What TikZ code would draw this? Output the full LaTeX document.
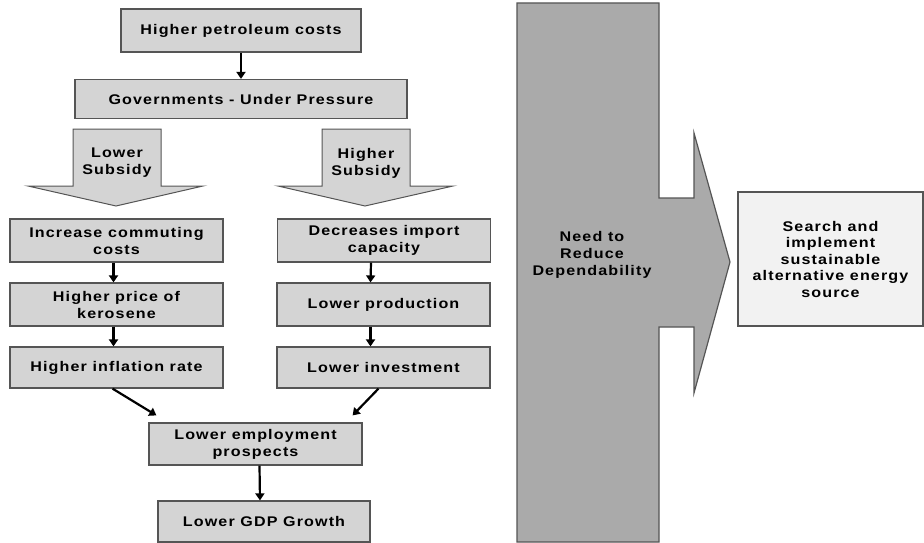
\documentclass[tikz,border=0pt]{standalone}
\usepackage{fontspec}
\setmainfont{Liberation Sans}[FakeStretch=1.15,LetterSpace=8]
\usetikzlibrary{arrows.meta,calc}
\definecolor{boxfill}{HTML}{D4D4D4}
\definecolor{bigfill}{HTML}{AAAAAA}
\definecolor{srchfill}{HTML}{F2F2F2}
\definecolor{edge}{HTML}{555555}
\begin{document}
\begin{tikzpicture}[x=1pt,y=-1pt,
  every node/.style={font=\bfseries\fontsize{14}{17}\selectfont,align=center,inner sep=0pt},
  fbox/.style={draw=edge,line width=1.2pt,fill=boxfill,minimum width=213pt,minimum height=43pt},
  flow/.style={draw=black,line width=2.2pt,-{Triangle[width=9pt,length=7pt]}},
  blockarrow/.style={draw=edge,line width=1pt,fill=boxfill}]
\useasboundingbox (0,0) rectangle (924,543);
% nodes
\node[fbox,minimum width=240pt,minimum height=43pt] (pet) at (241,30.5) {Higher petroleum costs};
\node[fbox,minimum width=332pt,minimum height=39pt] (gov) at (241,99) {Governments - Under Pressure};
% block arrows
\draw[blockarrow] (73,129) -- (161,129) -- (161,186) -- (203,186) -- (116,206) -- (28,186) -- (73,186) -- cycle;
\node (low) at (117,163) {Lower\\Subsidy};
\draw[blockarrow] (322,129) -- (410,129) -- (410,186) -- (453,186) -- (365,206) -- (278,186) -- (322,186) -- cycle;
\node (high) at (366,163) {Higher\\Subsidy};
\node[fbox] (inc) at (116.5,240.5) {Increase commuting\\costs};
\node[fbox] (dec) at (384,240.5) {Decreases import\\capacity};
\node[fbox] (ker) at (116.5,304.5) {Higher price of\\kerosene};
\node[fbox] (prod) at (383.5,304.5) {Lower production};
\node[fbox,minimum height=41pt] (infl) at (116.5,367.5) {Higher inflation rate};
\node[fbox,minimum height=41pt] (inv) at (383.5,367.5) {Lower investment};
\node[fbox,minimum height=42pt] (emp) at (255.5,444) {Lower employment\\prospects};
\node[fbox,minimum width=212pt,minimum height=41pt] (gdp) at (264,521.5) {Lower GDP Growth};
% big arrow
\draw[draw=edge,line width=1.2pt,fill=bigfill] (517,3) -- (659,3) -- (659,198) -- (694,198) -- (694,133) -- (730,262) -- (694,393) -- (694,327) -- (659,327) -- (659,542) -- (517,542) -- cycle;
\node (need) at (592,255) {Need to\\Reduce\\Dependability};
\node[draw=edge,line width=1.2pt,fill=srchfill,minimum width=185pt,minimum height=134pt,font=\bfseries\fontsize{14}{16.5}\selectfont] (srch) at (830.5,259) {Search and\\implement\\sustainable\\alternative energy\\source};
% connectors
\draw[flow] (pet.south) -- (gov.north);
\draw[flow] ($(inc.south)+(-3,0)$) -- ($(ker.north)+(-3,0)$);
\draw[flow] ($(ker.south)+(-3,0)$) -- ($(infl.north)+(-3,0)$);
\draw[flow] ($(dec.south)+(-13,0)$) -- ($(prod.north)+(-13,0)$);
\draw[flow] ($(prod.south)+(-13,0)$) -- ($(inv.north)+(-13,0)$);
\draw[flow] ($(infl.south)+(-4,0)$) -- ($(emp.north west)+(8,-7)$);
\draw[flow] ($(inv.south)+(-5,0)$) -- ($(emp.north east)+(-10,-7)$);
\draw[flow] ($(emp.south)+(4,0)$) -- ($(gdp.north)+(-4,0)$);
\end{tikzpicture}
\end{document}
